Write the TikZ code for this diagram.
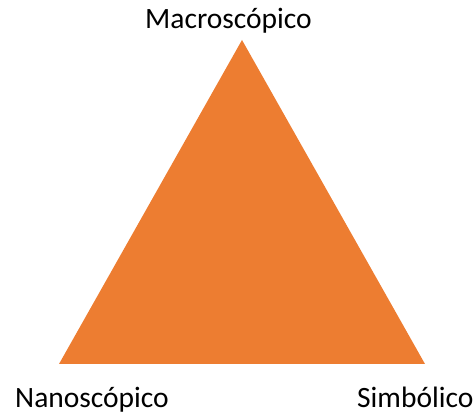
\documentclass[tikz,border=0pt]{standalone}
\usepackage{fontspec}
\setmainfont{Carlito}
\definecolor{triorange}{HTML}{ED7D31}
\tikzset{
  vertexlabel/.style={inner sep=0pt, font=\fontsize{29.5}{34}\selectfont}
}
\begin{document}
\begin{tikzpicture}[x=1pt,y=1pt]
  \useasboundingbox (0,0) rectangle (475,414);

  % the triangle
  \coordinate (top) at (242,374);
  \coordinate (left) at (59,50);
  \coordinate (right) at (425,50);
  \fill[triorange] (top) -- (left) -- (right) -- cycle;

  % labels
  \node[vertexlabel, anchor=base west] (macro) at (145,385) {Macroscópico};
  \node[vertexlabel, anchor=base west] (nano) at (15,6) {Nanoscópico};
  \node[vertexlabel, anchor=base west] (simb) at (357,6) {Simbólico};
\end{tikzpicture}
\end{document}
